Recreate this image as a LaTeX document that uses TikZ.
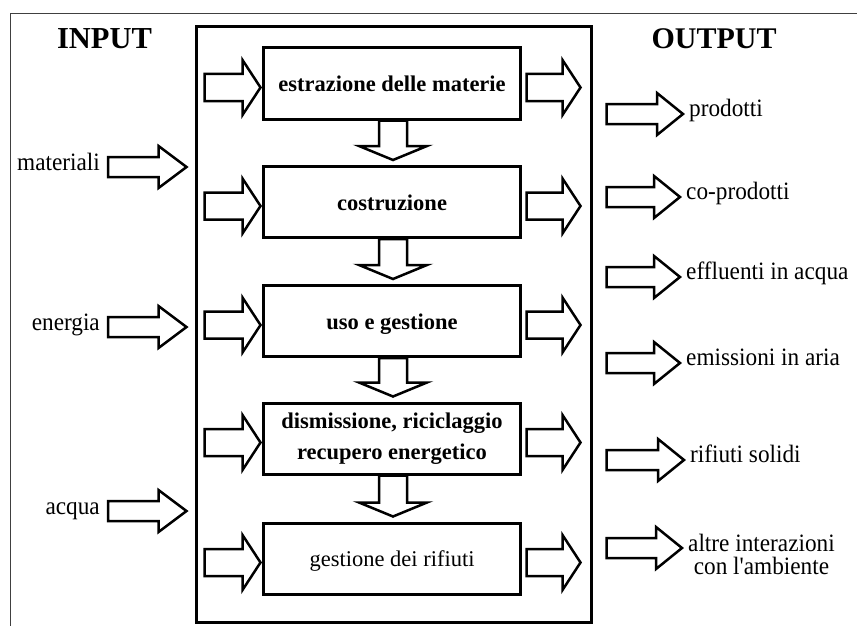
\documentclass[tikz,border=0pt]{standalone}
\usepackage{fontspec}
\setmainfont{Liberation Serif}
\newfontfamily\labelfont{Liberation Serif}[Ligatures=TeXOff, FakeStretch=0.93]
\usetikzlibrary{calc}

\tikzset{
  frame/.style={draw=black, line width=3pt, minimum width=395pt, minimum height=595pt, inner sep=0pt},
  stage/.style={draw=black, line width=3pt, minimum width=257pt, minimum height=71pt, inner sep=0pt,
    font=\fontsize{22.5}{31}\selectfont\bfseries, text height=16pt, text depth=0pt},
  fatline/.style={draw=black, fill=white, line width=2.5pt, line join=miter},
  heading/.style={font=\fontsize{30.5}{32}\selectfont\bfseries, inner sep=0pt},
  flowlabel/.style={font=\labelfont\fontsize{25}{23}\selectfont, inner sep=0pt},
  border/.style={draw=black!75, line width=1pt},
}

% block arrow: tail point, tip point, shaft half width, head half width, head length
\newcommand\fatarrow[5]{%
  \path (#1) coordinate (fa-s) (#2) coordinate (fa-t);
  \path ($(fa-t)!#5!(fa-s)$) coordinate (fa-b);
  \draw[fatline] ($(fa-s)!#3!90:(fa-t)$) -- ($(fa-b)!#3!-90:(fa-s)$) -- ($(fa-b)!#4!-90:(fa-s)$)
    -- (fa-t) -- ($(fa-b)!#4!90:(fa-s)$) -- ($(fa-b)!#3!90:(fa-s)$) -- ($(fa-s)!#3!-90:(fa-t)$) -- cycle;
}

\begin{document}
\begin{tikzpicture}[x=1pt, y=-1pt]
\useasboundingbox (0,0) rectangle (857,626);

% page border (left and top edges)
\draw[border] (10,626) -- (10,14) -- (857,14);

% headings
\node[heading, anchor=base] (hin) at (104.5,49) {INPUT};
\node[heading, anchor=base, font=\fontsize{30}{32}\selectfont\bfseries] (hout) at (714,49) {OUTPUT};

% system boundary
\node[frame] (main) at (393.5,324.5) {};

% life-cycle stages
\node[stage] (b1) at (392,83.5) {estrazione delle materie};
\node[stage] (b2) at (392,202) {costruzione};
\node[stage] (b3) at (392,321) {uso e gestione};
\node[stage, text height=, text depth=, align=center] (b4) at (392,438.5) {dismissione, riciclaggio\\recupero energetico};
\node[stage, font=\fontsize{22.5}{31}\selectfont] (b5) at (392,558.5) {gestione dei rifiuti};

% flow between stages
\fatarrow{$(b1.south)+(1,0)$}{$(b2.north)+(1,-5)$}{14pt}{34pt}{14pt}
\fatarrow{$(b2.south)+(1,0)$}{$(b3.north)+(1,-5)$}{14pt}{34pt}{14pt}
\fatarrow{$(b3.south)+(1,0)$}{$(b4.north)+(1,-5)$}{14pt}{34pt}{14pt}
\fatarrow{$(b4.south)+(1,0)$}{$(b5.north)+(1,-5)$}{14pt}{34pt}{14pt}

% stage inputs and outputs inside the boundary
\foreach \b in {b1,b2,b3,b4,b5}{
  \fatarrow{$(main.west |- \b.center)+(10,4)$}{$(\b.west)+(-1.5,4)$}{13.5pt}{27.5pt}{18pt}
  \fatarrow{$(\b.east)+(4.5,4)$}{$(main.east |- \b.center)+(-12,4)$}{13.5pt}{27.5pt}{18pt}
}

% system inputs
\node[flowlabel, anchor=base east] (in1) at (100,170) {materiali};
\node[flowlabel, anchor=base east] (in2) at (100,330) {energia};
\node[flowlabel, anchor=base east] (in3) at (100,514) {acqua};
\foreach \n in {in1,in2,in3}{
  \fatarrow{$(\n.base east)+(8,-3)$}{$(main.west |- \n.base)+(-8,-3)$}{10pt}{21pt}{28pt}
}

% system outputs
\node[flowlabel, anchor=base west] (out1) at (689,116) {prodotti};
\node[flowlabel, anchor=base west] (out2) at (686,199) {co-prodotti};
\node[flowlabel, anchor=base west] (out3) at (686,279) {effluenti in acqua};
\node[flowlabel, anchor=base west] (out4) at (686,365) {emissioni in aria};
\node[flowlabel, anchor=base west] (out5) at (690,462) {rifiuti solidi};
\node[flowlabel, anchor=west, align=center] (out6) at (688,554) {altre interazioni\\con l'ambiente};
\foreach \n/\d in {out1/2,out2/2,out3/2,out4/2,out5/2}{
  \fatarrow{$(main.east |- \n.base)+(14,-\d)$}{$(\n.base west)+(-6,-\d)$}{10pt}{21pt}{26pt}
}
\fatarrow{$(main.east |- out6.west)+(14,-6)$}{$(out6.west)+(-6,-6)$}{10pt}{21pt}{26pt}
\end{tikzpicture}
\end{document}
